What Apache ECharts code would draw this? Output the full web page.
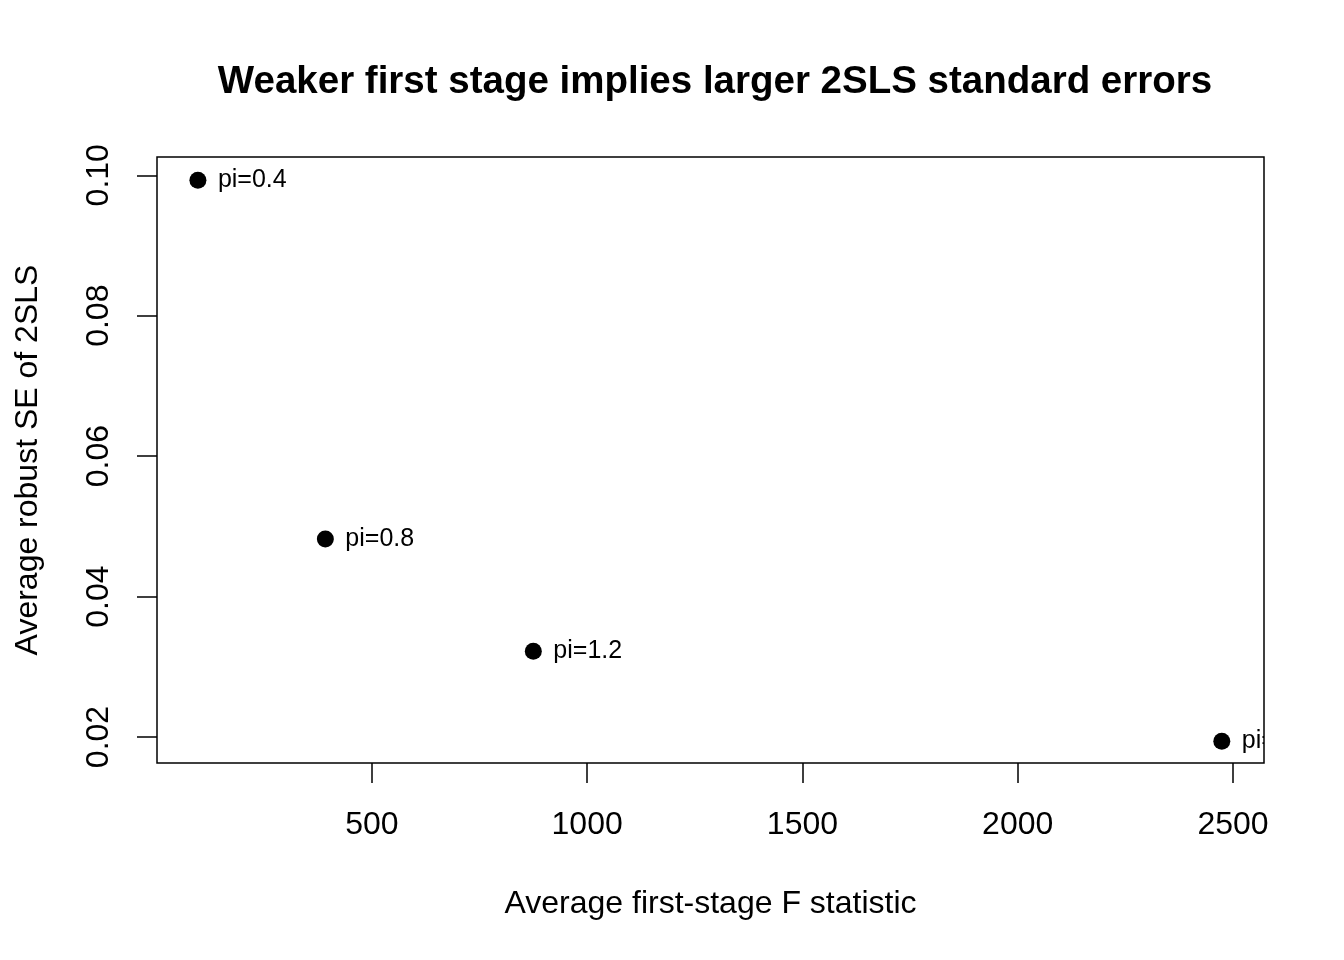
<!DOCTYPE html>
<html>
<head>
<meta charset="utf-8">
<script src="https://cdn.jsdelivr.net/npm/echarts@6/dist/echarts.min.js"></script>
<style>
html,body{margin:0;padding:0;background:#fff;}
#chart{width:1344px;height:960px;}
</style>
</head>
<body>
<div id="chart"></div>
<script>
const pointLabels = ['pi=0.4', 'pi=0.8', 'pi=1.2', 'pi=1.6'];
const avgF = [96, 392, 875, 2474];
const avgSE = [0.0993, 0.0482, 0.0322, 0.0194];
const xTicks = [500, 1000, 1500, 2000, 2500];
const yTicks = [0.02, 0.04, 0.06, 0.08, 0.10];

const FONT = '"Liberation Sans", Arial, sans-serif';
const pts = avgF.map((v, i) => [v, avgSE[i]]);

const chart = echarts.init(document.getElementById('chart'), null, {renderer: 'canvas'});
chart.setOption({
  backgroundColor: '#fff',
  animation: false,
  title: {
    text: 'Weaker first stage implies larger 2SLS standard errors',
    left: 710, top: 58, textAlign: 'center',
    textStyle: {fontFamily: FONT, fontSize: 38.5, fontWeight: 'bold', color: '#000'}
  },
  grid: {
    left: 157, top: 157, width: 1107, height: 606,
    show: true, borderColor: '#000', borderWidth: 1.5, backgroundColor: 'transparent',
    containLabel: false, outerBoundsMode: 'none'
  },
  xAxis: {
    type: 'value', min: 1, max: 2572,
    name: 'Average first-stage F statistic',
    nameLocation: 'middle', nameGap: 125,
    nameTextStyle: {fontFamily: FONT, fontSize: 32, color: '#000'},
    splitLine: {show: false},
    axisLine: {show: false},
    axisTick: {show: true, length: 20, customValues: xTicks, lineStyle: {color: '#000', width: 1.5}},
    axisLabel: {customValues: xTicks, margin: 46, fontFamily: FONT, fontSize: 32, color: '#000',
      formatter: v => String(v)}
  },
  yAxis: {
    type: 'value', min: 0.0163, max: 0.1026,
    name: 'Average robust SE of 2SLS',
    nameLocation: 'middle', nameGap: 113, nameRotate: 90,
    nameTextStyle: {fontFamily: FONT, fontSize: 32, color: '#000'},
    splitLine: {show: false},
    axisLine: {show: false},
    axisTick: {show: true, length: 20, customValues: yTicks, lineStyle: {color: '#000', width: 1.5}},
    axisLabel: {
      customValues: yTicks, rotate: 90, margin: 42,
      fontFamily: FONT, fontSize: 32, color: '#000',
      formatter: v => v.toFixed(2)
    }
  },
  series: [
    {
      type: 'scatter',
      data: pts,
      symbol: 'circle', symbolSize: 17,
      itemStyle: {color: '#000', opacity: 1},
      label: {show: false}
    },
    {
      type: 'custom',
      clip: true,
      data: pts,
      renderItem: function (params, api) {
        const p = api.coord([api.value(0), api.value(1)]);
        return {
          type: 'text',
          x: p[0] + 20, y: p[1],
          style: {
            text: pointLabels[params.dataIndex],
            fontFamily: FONT, fontSize: 25, fill: '#000',
            verticalAlign: 'middle', align: 'left'
          }
        };
      }
    }
  ]
});
</script>
</body>
</html>
